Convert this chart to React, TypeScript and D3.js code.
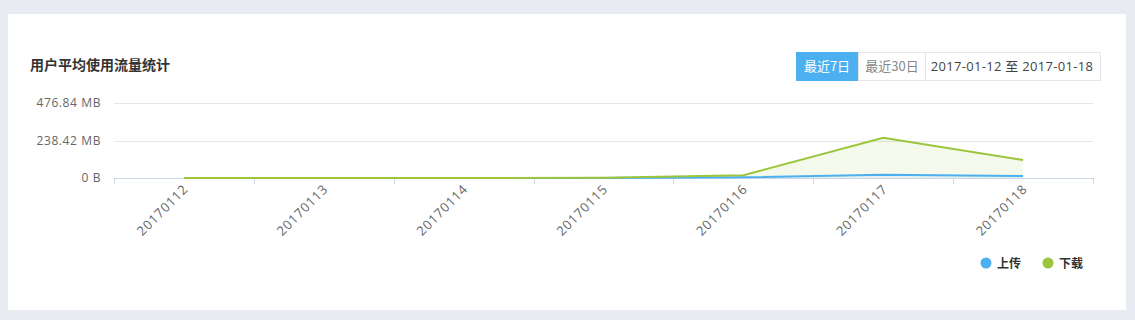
import React from "react";
import * as d3 from "d3";

const categories = ["20170112", "20170113", "20170114", "20170115", "20170116", "20170117", "20170118"];
const uploadBytes = [0, 0, 0, 500000, 5000000, 21000000, 13000000];
const downloadBytes = [0, 0, 0, 2000000, 18000000, 268000000, 120000000];
const yTicks = [0, 250000000, 500000000];
const seriesNames = ["上传", "下载"];
const seriesColors = ["#4cb0f0", "#9bc53d"];
const buttons = ["最近7日", "最近30日"];
const dateRange = "2017-01-12 至 2017-01-18";
const title = "用户平均使用流量统计";

const W = 1135, H = 320;
const FONT = "'Noto Sans CJK SC', 'Noto Sans', sans-serif";
const NUMFONT = "'Open Sans', 'Noto Sans CJK SC', sans-serif";

function fmt(b: number) {
  if (b === 0) return "0 B";
  return (b / 1048576).toFixed(2) + " MB";
}

export default function App() {
  const left = 114, right = 1093, top = 103, bottom = 178;
  const x = d3.scaleBand<string>().domain(categories).range([left, right]);
  const y = d3.scaleLinear().domain([0, 500000000]).range([bottom, top]);
  const cx = (c: string) => (x(c) as number) + x.bandwidth() / 2;

  const line = d3.line<number>().x((_, i) => cx(categories[i])).y((v) => y(v));
  const area = d3.area<number>().x((_, i) => cx(categories[i])).y0(y(0)).y1((v) => y(v));

  const boundaries = [...categories.map((c) => x(c) as number), right];

  return (
    <svg width={W} height={H} style={{ position: "absolute", left: 0, top: 0, fontFamily: FONT }}>
      <rect x={0} y={0} width={W} height={H} fill="#e9ebf2" />
      <rect x={8} y={14} width={1118} height={296} fill="#ffffff" />
      <text x={30} y={70} fontSize={14} fontWeight="bold" fill="#333">{title}</text>

      {/* buttons */}
      <rect x={796} y={52} width={62} height={29} fill="#4cb0f0" />
      <text x={827} y={71} fontSize={13} fill="#fff" textAnchor="middle">{buttons[0]}</text>
      <rect x={858.5} y={52.5} width={67} height={28} fill="#fff" stroke="#e6e6e6" />
      <text x={892} y={71} fontSize={13} fill="#888" textAnchor="middle">{buttons[1]}</text>
      <rect x={925.5} y={52.5} width={175} height={28} fill="#fff" stroke="#e6e6e6" />
      <text x={1012} y={71} fontSize={13} fill="#444" textAnchor="middle" fontFamily={NUMFONT} letterSpacing={0.3}>{dateRange}</text>

      {/* grid */}
      {yTicks.slice(1).map((t) => (
        <line key={t} x1={left} x2={right} y1={Math.round(y(t)) + 0.5} y2={Math.round(y(t)) + 0.5} stroke="#e6e6e6" />
      ))}
      {yTicks.map((t) => (
        <text key={"l" + t} x={101} y={y(t) + 4} fontSize={12} fill="#666" textAnchor="end" fontFamily={NUMFONT} letterSpacing={0.6}>{fmt(t)}</text>
      ))}

      {/* series */}
      <path d={area(downloadBytes) || ""} fill={seriesColors[1]} fillOpacity={0.1} />
      <path d={area(uploadBytes) || ""} fill={seriesColors[0]} fillOpacity={0.1} />

      {/* x axis */}
      <line x1={left} x2={right} y1={bottom + 0.5} y2={bottom + 0.5} stroke="#ccd6eb" />
      {boundaries.map((b, i) => (
        <line key={i} x1={Math.round(b) + 0.5} x2={Math.round(b) + 0.5} y1={bottom} y2={bottom + 6} stroke="#ccd6eb" />
      ))}
      <path d={line(uploadBytes) || ""} fill="none" stroke={seriesColors[0]} strokeWidth={2} />
      <path d={line(downloadBytes) || ""} fill="none" stroke={seriesColors[1]} strokeWidth={2} />

      {categories.map((c) => (
        <text key={c} fontSize={13} fill="#666" textAnchor="end" fontFamily={NUMFONT} letterSpacing={0.8}
          transform={`translate(${cx(c) + 5},${bottom + 12}) rotate(-45)`}>{c}</text>
      ))}

      {/* legend */}
      {seriesNames.map((n, i) => (
        <g key={n} transform={`translate(${986 + i * 62},263)`}>
          <circle cx={0} cy={0} r={5.5} fill={seriesColors[i]} />
          <text x={11} y={4.5} fontSize={12} fontWeight="bold" fill="#333">{n}</text>
        </g>
      ))}
    </svg>
  );
}
